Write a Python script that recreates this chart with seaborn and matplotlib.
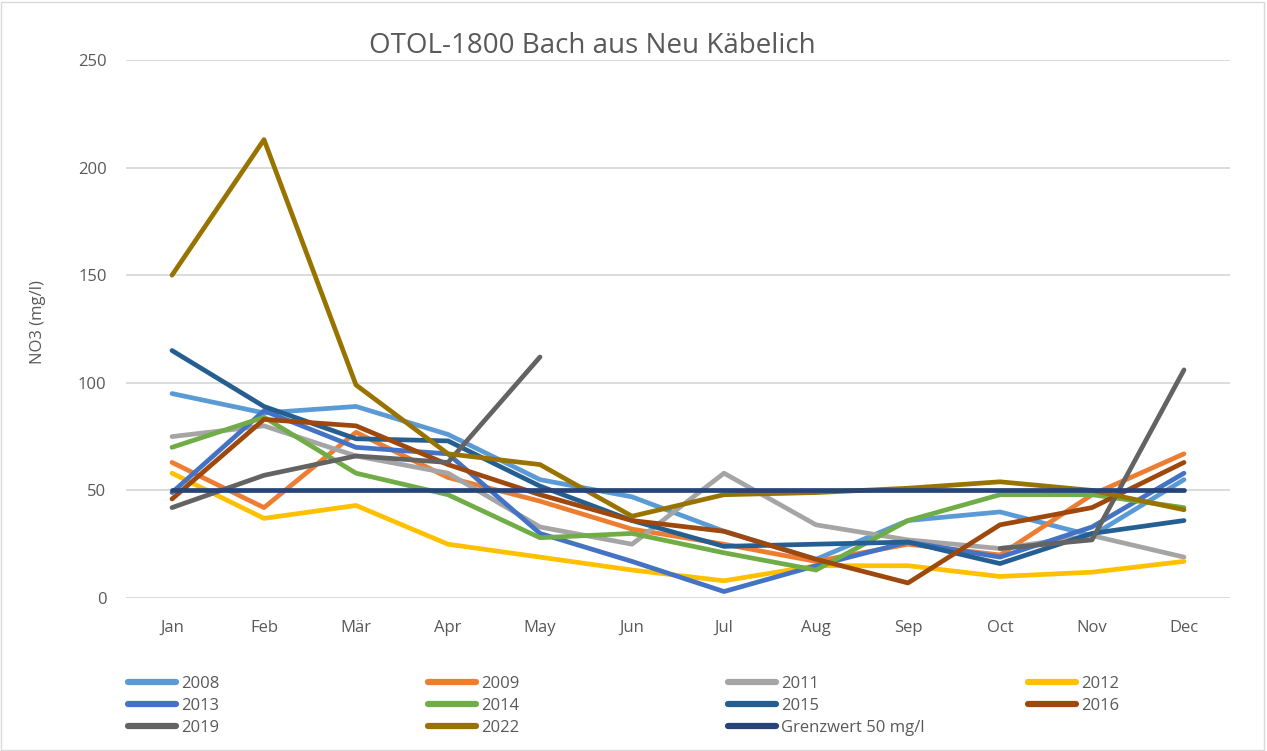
import matplotlib
matplotlib.use("Agg")
import matplotlib.pyplot as plt
import seaborn as sns
import pandas as pd
import numpy as np
from matplotlib.lines import Line2D
from matplotlib.patches import Rectangle

months = ["Jan", "Feb", "Mär", "Apr", "May", "Jun", "Jul", "Aug", "Sep", "Oct", "Nov", "Dec"]

nan = np.nan
y2008 = [95, 86, 89, 76, 55, 47, 31, 18, 36, 40, 29, 55]
y2009 = [63, 42, 77, 56, 45, 32, 25, 17, 25, 20, 48, 67]
y2011 = [75, 80, 66, 58, 33, 25, 58, 34, 27, 23, 29, 19]
y2012 = [58, 37, 43, 25, 19, 13, 8, 15, 15, 10, 12, 17]
y2013 = [49, 87, 70, 67, 30, 17, 3, 15, 26, 19, 33, 58]
y2014 = [70, 84, 58, 48, 28, 30, 21, 13, 36, 48, 48, 42]
y2015 = [115, 89, 74, 73, 52, 36, 24, 25, 26, 16, 30, 36]
y2016 = [46, 83, 80, 62, 48, 36, 31, 18, 7, 34, 42, 63]
y2019 = [42, 57, 66, 63, 112, nan, nan, nan, nan, 23, 27, 106]
y2022 = [150, 213, 99, 67, 62, 38, 48, 49, 51, 54, 50, 41]
grenzwert = [50] * 12

series = {
    "2008": y2008, "2009": y2009, "2011": y2011, "2012": y2012,
    "2013": y2013, "2014": y2014, "2015": y2015, "2016": y2016,
    "2019": y2019, "2022": y2022, "Grenzwert 50 mg/l": grenzwert,
}
colors = {
    "2008": "#5B9BD5", "2009": "#ED7D31", "2011": "#A5A5A5", "2012": "#FFC000",
    "2013": "#4472C4", "2014": "#70AD47", "2015": "#255E91", "2016": "#9E480E",
    "2019": "#636363", "2022": "#997300", "Grenzwert 50 mg/l": "#264478",
}

# long table, split into contiguous segments so gaps stay gaps
rows = []
for name, vals in series.items():
    seg = 0
    for m, v in zip(months, vals):
        if np.isnan(v):
            seg += 1
            continue
        rows.append({"month": m, "value": v, "serie": name, "seg": f"{name}_{seg}"})
df = pd.DataFrame(rows)

sns.set_theme(style="white")
plt.rcParams['font.family'] = ['Open Sans', 'DejaVu Sans']
grey = "#595959"

fig = plt.figure(figsize=(12.67, 7.51), dpi=100)
ax = fig.add_axes([126 / 1267, 1 - 598 / 751, (1230 - 126) / 1267, (598 - 60) / 751])

sns.lineplot(data=df, x="month", y="value", hue="serie", units="seg",
             estimator=None, sort=False, palette=colors, linewidth=3.4,
             legend=False, ax=ax)

ax.set_xlim(-0.5, 11.5)
ax.set_ylim(0, 250)
ax.set_yticks([0, 50, 100, 150, 200, 250])
ax.yaxis.grid(True, color="#D9D9D9", linewidth=1.3)
ax.set_axisbelow(True)
for s in ax.spines.values():
    s.set_visible(False)
ax.tick_params(axis="x", length=0, pad=16, labelsize=12, labelcolor=grey)
ax.tick_params(axis="y", length=0, pad=14, labelsize=12, labelcolor=grey)
ax.set_xlabel("")
ax.set_ylabel("")

fig.text(38 / 1267, 1 - 322 / 751, "NO3 (mg/l)", rotation=90, ha="center", va="center",
         fontsize=12, color=grey)
fig.text(592 / 1267, 1 - 46 / 751, "OTOL-1800 Bach aus Neu Käbelich", ha="center", va="center",
         fontsize=20, color=grey)

# legend, row-wise in four columns
cols = [["2008", "2013", "2019"], ["2009", "2014", "2022"],
        ["2011", "2015", "Grenzwert 50 mg/l"], ["2012", "2016"]]
xs = [128, 428, 728, 1028]
for names, x in zip(cols, xs):
    handles = [Line2D([0], [0], color=colors[n], linewidth=4.5, solid_capstyle="round") for n in names]
    leg = fig.legend(handles, names, loc="upper left", bbox_to_anchor=(x / 1267, 1 - 676 / 751),
                     frameon=False, fontsize=12, handlelength=2.9, handletextpad=0.3,
                     labelspacing=0.35, borderaxespad=0, borderpad=0)
    for t in leg.get_texts():
        t.set_color(grey)

fig.patches.append(Rectangle((0.001, 0.001), 0.997, 0.997, transform=fig.transFigure,
                             fill=False, edgecolor="#D9D9D9", linewidth=1))

fig.savefig("out.png", dpi=100)
